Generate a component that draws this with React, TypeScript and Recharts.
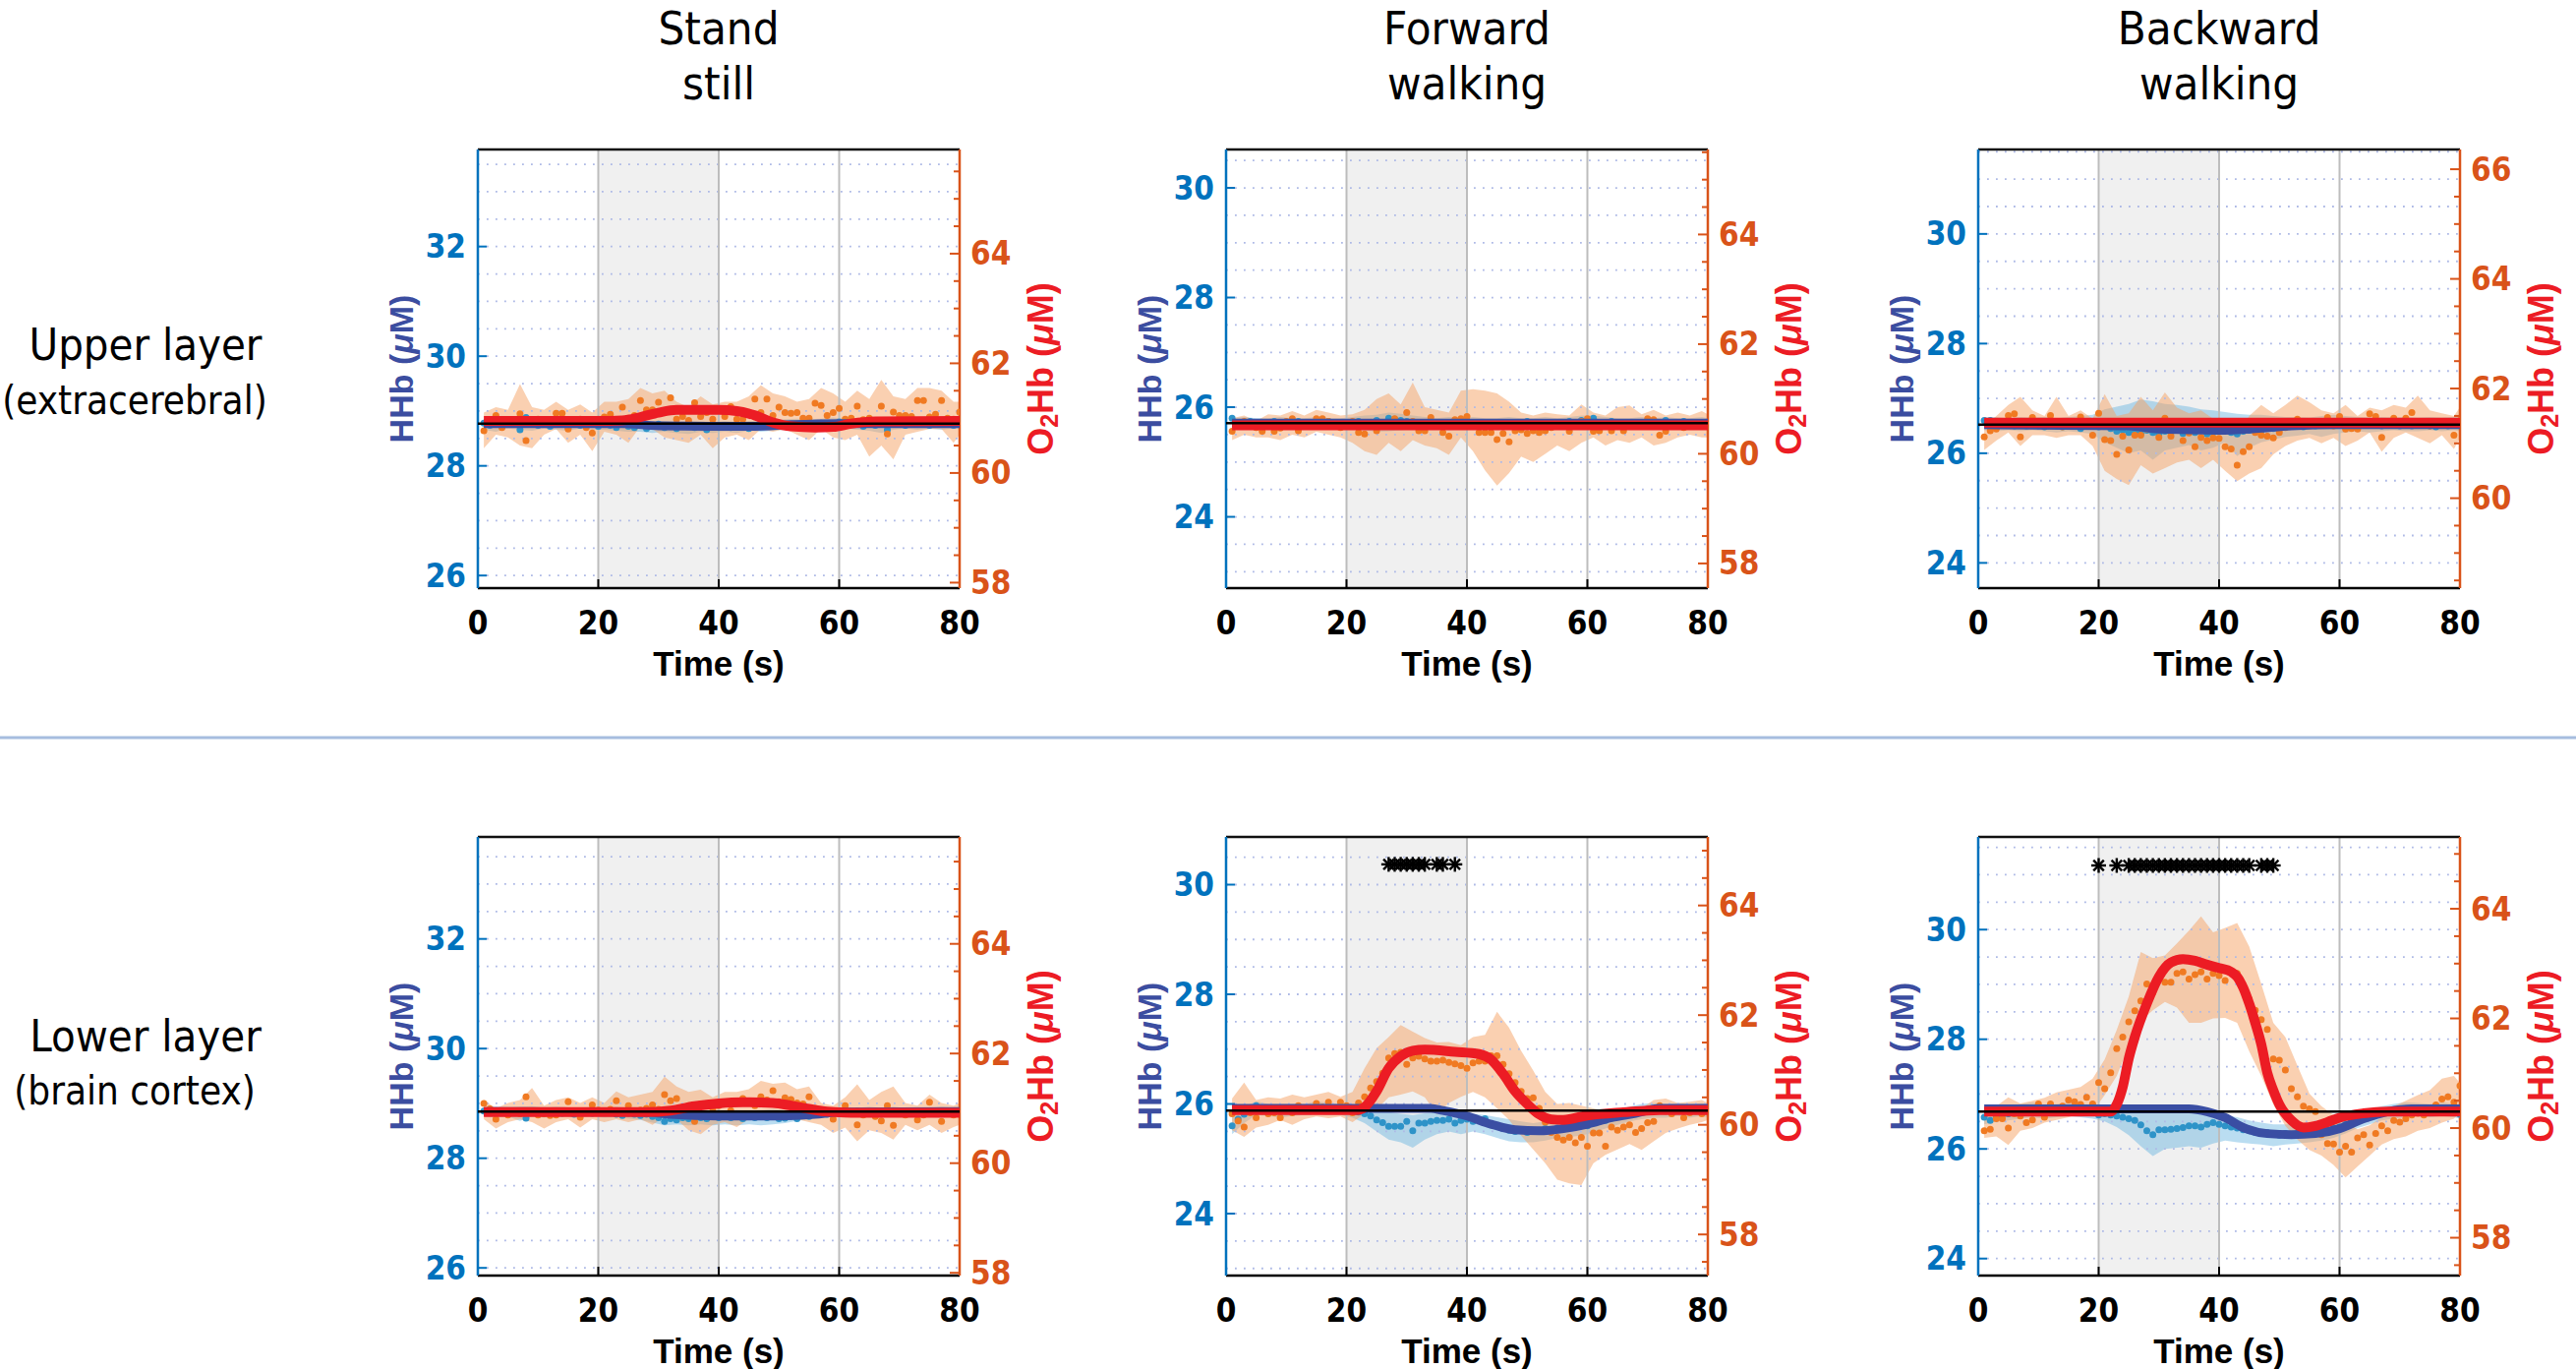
import React from "react";
import {
  ComposedChart,
  Line,
  Area,
  XAxis,
  YAxis,
  ReferenceArea,
  ReferenceLine,
} from "recharts";

// time base (s): one averaged sample per second, bands read every 2 s
const seconds = [
  1, 2, 3, 4, 5, 6, 7, 8, 9, 10, 11, 12, 13, 14, 15, 16, 17, 18, 19, 20,
  21, 22, 23, 24, 25, 26, 27, 28, 29, 30, 31, 32, 33, 34, 35, 36, 37, 38, 39, 40,
  41, 42, 43, 44, 45, 46, 47, 48, 49, 50, 51, 52, 53, 54, 55, 56, 57, 58, 59, 60,
  61, 62, 63, 64, 65, 66, 67, 68, 69, 70, 71, 72, 73, 74, 75, 76, 77, 78, 79, 80,
];
const bandSeconds = [
  1, 3, 5, 7, 9, 11, 13, 15, 17, 19, 21, 23, 25, 27, 29, 31, 33, 35, 37, 39,
  41, 43, 45, 47, 49, 51, 53, 55, 57, 59, 61, 63, 65, 67, 69, 71, 73, 75, 77, 79, 80,
];
const timeTicks = [0, 20, 40, 60, 80];
const columnTitles = [["Stand", "still"], ["Forward", "walking"], ["Backward", "walking"]];
const rowTitles = [["Upper layer", "(extracerebral)"], ["Lower layer", "(brain cortex)"]];

// ---- Upper layer, stand still ----
const upStandOxy = [
  60.77, 60.95, 61.05, 60.83, 60.92, 60.97, 61.08, 60.59, 60.93, 60.98,
  60.96, 60.9, 61.09, 61.09, 60.8, 60.94, 60.98, 60.83, 60.73, 60.98,
  61.02, 61.07, 60.97, 61.2, 61.0, 61.05, 61.32, 61.15, 61.15, 61.29,
  61.1, 61.37, 60.98, 61.03, 60.96, 61.28, 61.03, 61.1, 60.98, 60.86,
  61.03, 61.21, 60.98, 60.98, 61.08, 61.35, 61.1, 61.35, 61.05, 61.2,
  61.1, 61.09, 61.1, 61.0, 61.0, 61.27, 61.23, 61.05, 61.1, 61.18,
  60.98, 61.0, 61.22, 60.97, 61.0, 60.95, 61.22, 60.71, 61.11, 61.05,
  61.05, 61.03, 61.32, 61.32, 61.02, 61.07, 61.32, 61.0, 60.98, 61.11,
];
const upStandOxyHi = [
  61.1, 61.2, 61.15, 61.62, 61.2, 61.15, 61.3, 61.15, 61.25, 61.1,
  61.3, 61.3, 61.35, 61.55, 61.45, 61.5, 61.3, 61.2, 61.4, 61.25,
  61.3, 61.3, 61.4, 61.6, 61.45, 61.4, 61.3, 61.35, 61.55, 61.45,
  61.3, 61.5, 61.35, 61.7, 61.4, 61.35, 61.55, 61.55, 61.5, 61.3, 61.3,
];
const upStandOxyLo = [
  60.45, 60.7, 60.65, 60.5, 60.45, 60.7, 60.8, 60.55, 60.7, 60.4,
  60.75, 60.7, 60.55, 60.85, 60.8, 60.65, 60.6, 60.55, 60.7, 60.45,
  60.65, 60.7, 60.6, 60.8, 60.75, 60.8, 60.7, 60.6, 60.8, 60.65,
  60.6, 60.7, 60.3, 60.5, 60.25, 60.7, 60.75, 60.8, 60.8, 60.55, 60.7,
];
const upStandHhb = [
  28.78, 28.74, 28.8, 28.72, 28.76, 28.8, 28.66, 28.88, 28.76, 28.74,
  28.78, 28.72, 28.8, 28.76, 28.7, 28.78, 28.74, 28.8, 28.76, 28.72,
  28.78, 28.74, 28.7, 28.76, 28.72, 28.7, 28.74, 28.68, 28.72, 28.76,
  28.7, 28.74, 28.68, 28.72, 28.78, 28.7, 28.74, 28.66, 28.72, 28.7,
  28.74, 28.7, 28.76, 28.72, 28.68, 28.74, 28.72, 28.76, 28.74, 28.78,
  28.72, 28.76, 28.74, 28.8, 28.76, 28.74, 28.78, 28.72, 28.76, 28.8,
  28.74, 28.78, 28.76, 28.72, 28.8, 28.74, 28.78, 28.66, 28.76, 28.8,
  28.74, 28.78, 28.76, 28.8, 28.74, 28.78, 28.8, 28.76, 28.74, 28.82,
];
const upStandHhbHi = [
  28.86, 28.88, 28.85, 28.86, 28.9, 28.86, 28.85, 28.88, 28.86, 28.85,
  28.86, 28.85, 28.84, 28.83, 28.82, 28.82, 28.8, 28.82, 28.81, 28.8,
  28.82, 28.8, 28.82, 28.83, 28.84, 28.85, 28.86, 28.85, 28.86, 28.88,
  28.86, 28.85, 28.88, 28.86, 28.85, 28.86, 28.88, 28.86, 28.85, 28.86, 28.86,
];
const upStandHhbLo = [
  28.66, 28.62, 28.68, 28.66, 28.64, 28.68, 28.66, 28.64, 28.68, 28.66,
  28.66, 28.64, 28.62, 28.62, 28.6, 28.62, 28.6, 28.58, 28.62, 28.6,
  28.62, 28.6, 28.64, 28.62, 28.64, 28.66, 28.64, 28.66, 28.68, 28.66,
  28.68, 28.66, 28.64, 28.6, 28.66, 28.68, 28.66, 28.68, 28.66, 28.68, 28.68,
];
const upStandOxyFit = [
  [1, 60.95], [20, 60.95], [24, 60.96], [27, 61.02], [30, 61.1], [33, 61.15], [40, 61.15],
  [43, 61.13], [46, 61.05], [49, 60.92], [52, 60.85], [56, 60.83], [59, 60.84], [62, 60.9],
  [66, 60.94], [80, 60.95],
];
const upStandHhbFit = [
  [1, 28.77], [24, 28.77], [30, 28.73], [40, 28.72], [46, 28.72], [52, 28.75], [60, 28.77], [80, 28.77],
];

// ---- Upper layer, forward walking ----
const upFwdOxy = [
  60.41, 60.5, 60.59, 60.52, 60.48, 60.41, 60.5, 60.41, 60.47, 60.59,
  60.64, 60.42, 60.5, 60.53, 60.64, 60.64, 60.59, 60.52, 60.48, 60.5,
  60.59, 60.39, 60.36, 60.5, 60.42, 60.55, 60.52, 60.64, 60.55, 60.75,
  60.59, 60.42, 60.42, 60.66, 60.5, 60.39, 60.32, 60.62, 60.64, 60.68,
  60.5, 60.39, 60.39, 60.39, 60.26, 60.37, 60.22, 60.42, 60.44, 60.37,
  60.42, 60.39, 60.42, 60.48, 60.52, 60.5, 60.41, 60.53, 60.59, 60.64,
  60.41, 60.42, 60.5, 60.42, 60.53, 60.42, 60.5, 60.55, 60.52, 60.64,
  60.62, 60.34, 60.41, 60.5, 60.52, 60.48, 60.5, 60.53, 60.5, 60.55,
];
const upFwdOxyHi = [
  60.65, 60.7, 60.6, 60.72, 60.7, 60.78, 60.7, 60.8, 60.75, 60.7,
  60.72, 60.8, 61.0, 61.1, 60.9, 61.3, 60.85, 60.8, 60.75, 61.15,
  61.18, 61.15, 61.1, 60.95, 60.75, 60.7, 60.75, 60.72, 60.7, 60.9,
  60.75, 60.7, 60.85, 60.88, 60.72, 60.8, 60.7, 60.75, 60.7, 60.78, 60.72,
];
const upFwdOxyLo = [
  60.25, 60.35, 60.3, 60.3, 60.25, 60.35, 60.3, 60.4, 60.35, 60.3,
  60.2, 60.05, 59.98, 60.2, 60.05, 60.25, 60.15, 60.1, 59.98, 60.3,
  60.05, 59.7, 59.42, 59.65, 59.95, 59.85, 60.0, 60.15, 60.05, 60.2,
  60.3, 60.15, 60.25, 60.2, 60.3, 60.15, 60.2, 60.3, 60.35, 60.3, 60.3,
];
const upFwdHhb = [
  25.8, 25.72, 25.7, 25.74, 25.68, 25.72, 25.7, 25.74, 25.7, 25.72,
  25.68, 25.74, 25.7, 25.72, 25.66, 25.7, 25.74, 25.7, 25.72, 25.68,
  25.7, 25.74, 25.72, 25.7, 25.76, 25.72, 25.8, 25.78, 25.76, 25.74,
  25.7, 25.72, 25.68, 25.7, 25.66, 25.7, 25.72, 25.68, 25.74, 25.7,
  25.72, 25.68, 25.7, 25.72, 25.66, 25.7, 25.68, 25.72, 25.7, 25.74,
  25.7, 25.72, 25.68, 25.7, 25.72, 25.7, 25.74, 25.72, 25.76, 25.74,
  25.8, 25.72, 25.7, 25.74, 25.7, 25.72, 25.68, 25.7, 25.72, 25.74,
  25.7, 25.72, 25.76, 25.7, 25.72, 25.74, 25.7, 25.72, 25.7, 25.72,
];
const upFwdHhbHi = [
  25.8, 25.82, 25.8, 25.8, 25.82, 25.8, 25.8, 25.82, 25.8, 25.8,
  25.82, 25.85, 25.86, 25.9, 25.88, 25.85, 25.82, 25.8, 25.82, 25.8,
  25.82, 25.8, 25.8, 25.82, 25.8, 25.8, 25.82, 25.8, 25.82, 25.85,
  25.85, 25.82, 25.8, 25.8, 25.82, 25.8, 25.82, 25.8, 25.8, 25.82, 25.8,
];
const upFwdHhbLo = [
  25.62, 25.62, 25.6, 25.62, 25.6, 25.62, 25.6, 25.62, 25.6, 25.6,
  25.6, 25.58, 25.55, 25.56, 25.58, 25.6, 25.58, 25.6, 25.58, 25.6,
  25.6, 25.6, 25.58, 25.6, 25.62, 25.6, 25.62, 25.6, 25.6, 25.62,
  25.6, 25.6, 25.62, 25.6, 25.62, 25.6, 25.62, 25.6, 25.62, 25.6, 25.62,
];
const upFwdOxyFit = [[1, 60.52], [80, 60.52]];
const upFwdHhbFit = [[1, 25.71], [80, 25.71]];

// ---- Upper layer, backward walking ----
const upBwdOxy = [
  61.12, 61.23, 61.26, 61.36, 61.51, 61.54, 61.12, 61.35, 61.47, 61.38,
  61.32, 61.51, 61.36, 61.3, 61.34, 61.38, 61.48, 61.33, 61.15, 61.55,
  61.07, 61.05, 60.8, 61.13, 60.88, 61.15, 61.15, 61.26, 61.26, 61.11,
  61.46, 61.13, 61.29, 61.05, 61.19, 60.94, 61.11, 61.05, 61.1, 61.09,
  60.94, 60.9, 60.6, 60.85, 60.94, 61.2, 61.15, 61.13, 61.1, 61.2,
  61.29, 61.34, 61.44, 61.36, 61.33, 61.38, 61.35, 61.47, 61.32, 61.49,
  61.26, 61.27, 61.26, 61.34, 61.54, 61.49, 61.11, 61.36, 61.46, 61.38,
  61.46, 61.56, 61.35, 61.38, 61.32, 61.36, 61.34, 61.38, 61.15, 61.42,
];
const upBwdOxyHi = [
  61.3, 61.5, 61.7, 61.85, 61.6, 61.5, 61.85, 61.5, 61.6, 61.45,
  61.9, 61.5, 61.55, 61.85, 61.6, 61.93, 61.65, 61.55, 61.6, 61.45,
  61.3, 61.15, 61.5, 61.7, 61.55, 61.7, 61.87, 61.75, 61.6, 61.55,
  61.7, 61.5, 61.65, 61.6, 61.7, 61.65, 61.87, 61.6, 61.55, 61.5, 61.66,
];
const upBwdOxyLo = [
  60.88, 61.05, 61.2, 60.95, 61.15, 61.15, 61.1, 61.15, 61.15, 60.95,
  60.5, 60.35, 60.24, 60.6, 60.45, 60.55, 60.65, 60.7, 60.55, 60.7,
  60.5, 60.31, 60.45, 60.55, 60.8, 60.95, 61.05, 61.1, 61.0, 61.1,
  60.95, 61.05, 61.2, 60.85, 61.1, 61.2, 61.1, 61.0, 61.15, 60.9, 61.1,
];
const upBwdHhb = [
  26.6, 26.6, 26.58, 26.55, 26.52, 26.5, 26.55, 26.5, 26.52, 26.5,
  26.48, 26.52, 26.5, 26.48, 26.52, 26.5, 26.45, 26.5, 26.52, 26.48,
  26.5, 26.45, 26.4, 26.42, 26.38, 26.4, 26.36, 26.42, 26.38, 26.35,
  26.4, 26.38, 26.42, 26.36, 26.4, 26.38, 26.42, 26.35, 26.38, 26.4,
  26.42, 26.38, 26.35, 26.4, 26.42, 26.45, 26.42, 26.48, 26.45, 26.5,
  26.48, 26.52, 26.5, 26.48, 26.52, 26.5, 26.55, 26.52, 26.58, 26.55,
  26.5, 26.52, 26.5, 26.55, 26.52, 26.58, 26.5, 26.52, 26.55, 26.5,
  26.52, 26.5, 26.55, 26.52, 26.5, 26.48, 26.52, 26.5, 26.55, 26.58,
];
const upBwdHhbHi = [
  26.65, 26.66, 26.64, 26.66, 26.65, 26.66, 26.64, 26.66, 26.68, 26.7,
  26.8, 26.85, 26.9, 26.98, 26.95, 26.9, 26.88, 26.85, 26.8, 26.78,
  26.75, 26.72, 26.7, 26.7, 26.68, 26.66, 26.66, 26.65, 26.68, 26.7,
  26.68, 26.66, 26.65, 26.66, 26.65, 26.66, 26.65, 26.66, 26.65, 26.66, 26.65,
];
const upBwdHhbLo = [
  26.42, 26.4, 26.42, 26.4, 26.42, 26.4, 26.38, 26.4, 26.38, 26.35,
  26.2, 26.1, 26.0, 26.05, 25.88, 26.05, 26.1, 26.15, 26.05, 26.1,
  26.2, 25.95, 26.1, 26.2, 26.25, 26.3, 26.32, 26.35, 26.3, 26.35,
  26.38, 26.4, 26.38, 26.4, 26.42, 26.4, 26.4, 26.42, 26.4, 26.42, 26.4,
];
const upBwdOxyFit = [[1, 61.38], [80, 61.38]];
const upBwdHhbFit = [
  [1, 26.52], [25, 26.5], [30, 26.44], [40, 26.42], [46, 26.45], [52, 26.5], [60, 26.52], [80, 26.52],
];

// ---- Lower layer, stand still ----
const lowStandOxy = [
  61.09, 60.99, 60.8, 60.92, 60.88, 60.95, 60.9, 61.21, 60.92, 60.88,
  60.9, 60.87, 60.88, 60.92, 61.12, 60.95, 60.84, 60.95, 61.06, 60.97,
  60.95, 60.98, 61.14, 60.95, 61.05, 60.92, 60.97, 61.0, 61.06, 60.98,
  61.25, 61.14, 61.18, 61.02, 61.05, 60.76, 61.08, 60.87, 61.0, 61.05,
  61.1, 60.96, 61.12, 61.18, 61.1, 61.05, 61.21, 61.15, 61.32, 61.12,
  61.19, 61.16, 61.1, 61.08, 61.21, 61.0, 60.95, 60.9, 60.8, 60.92,
  61.05, 60.9, 60.7, 60.88, 60.92, 60.85, 60.77, 61.05, 60.69, 60.9,
  60.88, 60.92, 60.79, 60.88, 61.11, 60.9, 60.76, 60.92, 60.88, 60.93,
];
const lowStandOxyHi = [
  61.15, 61.0, 61.1, 61.15, 61.37, 61.05, 61.15, 61.2, 61.1, 61.2,
  61.1, 61.31, 61.2, 61.25, 61.3, 61.58, 61.4, 61.3, 61.34, 61.2,
  61.3, 61.3, 61.35, 61.5, 61.45, 61.47, 61.35, 61.4, 61.1, 61.05,
  61.2, 61.44, 61.15, 61.3, 61.4, 61.1, 61.05, 61.25, 61.1, 61.05, 61.1,
];
const lowStandOxyLo = [
  60.8, 60.63, 60.75, 60.8, 60.75, 60.63, 60.75, 60.8, 60.65, 60.8,
  60.75, 60.8, 60.75, 60.8, 60.7, 60.85, 60.8, 60.6, 60.53, 60.7,
  60.75, 60.66, 60.8, 60.85, 60.9, 60.85, 60.8, 60.75, 60.7, 60.55,
  60.65, 60.4, 60.6, 60.55, 60.43, 60.7, 60.6, 60.7, 60.55, 60.66, 60.7,
];
const lowStandHhb = [
  28.86, 28.84, 28.82, 28.86, 28.8, 28.84, 28.82, 28.73, 28.84, 28.86,
  28.82, 28.84, 28.86, 28.82, 28.84, 28.8, 28.84, 28.86, 28.82, 28.84,
  28.86, 28.84, 28.8, 28.78, 28.82, 28.8, 28.78, 28.8, 28.76, 28.74,
  28.67, 28.72, 28.7, 28.74, 28.72, 28.76, 28.74, 28.72, 28.76, 28.74,
  28.78, 28.74, 28.76, 28.72, 28.76, 28.74, 28.78, 28.74, 28.76, 28.72,
  28.73, 28.76, 28.72, 28.78, 28.76, 28.8, 28.82, 28.8, 28.84, 28.82,
  28.84, 28.82, 28.86, 28.84, 28.82, 28.86, 28.84, 28.82, 28.86, 28.84,
  28.82, 28.86, 28.84, 28.82, 28.84, 28.86, 28.84, 28.82, 28.86, 28.84,
];
const lowStandHhbHi = [
  28.92, 28.94, 28.92, 28.94, 28.95, 28.92, 28.94, 28.93, 28.92, 28.94,
  28.92, 28.94, 28.92, 28.9, 28.9, 28.88, 28.88, 28.87, 28.86, 28.87,
  28.86, 28.88, 28.87, 28.88, 28.9, 28.88, 28.86, 28.88, 28.9, 28.92,
  28.94, 28.92, 28.94, 28.92, 28.94, 28.92, 28.93, 28.92, 28.94, 28.92, 28.93,
];
const lowStandHhbLo = [
  28.76, 28.74, 28.76, 28.68, 28.76, 28.74, 28.76, 28.75, 28.74, 28.76,
  28.74, 28.75, 28.72, 28.7, 28.65, 28.6, 28.62, 28.6, 28.62, 28.6,
  28.62, 28.6, 28.62, 28.6, 28.62, 28.64, 28.68, 28.72, 28.74, 28.76,
  28.74, 28.76, 28.75, 28.74, 28.76, 28.74, 28.76, 28.75, 28.74, 28.76, 28.75,
];
const lowStandOxyFit = [
  [1, 60.93], [28, 60.93], [32, 60.96], [36, 61.04], [40, 61.09], [44, 61.11], [49, 61.1],
  [52, 61.05], [55, 60.99], [58, 60.94], [62, 60.92], [80, 60.92],
];
const lowStandHhbFit = [
  [1, 28.85], [28, 28.84], [32, 28.8], [40, 28.77], [50, 28.77], [56, 28.8], [60, 28.84], [80, 28.85],
];

// ---- Lower layer, forward walking ----
const lowFwdOxy = [
  60.2, 60.07, 59.96, 60.22, 60.13, 60.25, 60.2, 60.22, 60.13, 60.28,
  60.22, 60.35, 60.3, 60.28, 60.39, 60.32, 60.41, 60.3, 60.41, 60.35,
  60.22, 60.4, 60.51, 60.67, 60.79, 60.94, 61.22, 61.3, 61.32, 61.1,
  61.22, 61.25, 61.2, 61.16, 61.16, 61.18, 61.14, 61.11, 61.08, 61.03,
  61.13, 61.16, 61.16, 61.26, 61.26, 61.1, 60.93, 60.77, 60.61, 60.48,
  60.49, 60.3, 60.05, 59.86, 59.77, 59.72, 59.77, 59.67, 59.77, 59.61,
  59.85, 59.85, 59.61, 59.96, 59.9, 59.96, 60.0, 59.86, 59.93, 60.04,
  60.06, 60.35, 60.25, 60.2, 60.28, 60.13, 60.22, 60.25, 60.2, 60.25,
];
const lowFwdOxyHi = [
  60.48, 60.77, 60.45, 60.5, 60.48, 60.55, 60.5, 60.55, 60.6, 60.51,
  60.6, 61.03, 61.4, 61.6, 61.82, 61.7, 61.58, 61.5, 61.51, 61.45,
  61.6, 61.64, 62.06, 61.77, 61.35, 60.99, 60.6, 60.38, 60.4, 60.35,
  60.3, 60.25, 60.22, 60.3, 60.3, 60.45, 60.48, 60.4, 60.42, 60.45, 60.4,
];
const lowFwdOxyLo = [
  59.9, 59.78, 59.95, 60.0, 60.09, 60.0, 60.1, 60.15, 60.12, 60.15,
  60.05, 60.2, 60.28, 60.5, 60.55, 60.61, 60.5, 60.19, 60.4, 60.51,
  60.6, 60.5, 60.3, 60.09, 59.8, 59.55, 59.3, 59.0, 58.93, 58.9,
  59.3, 59.45, 59.55, 59.65, 59.54, 59.7, 59.85, 59.93, 60.0, 60.05, 60.09,
];
const lowFwdHhb = [
  25.6, 25.72, 25.81, 25.85, 25.97, 25.9, 25.88, 25.92, 25.86, 25.9,
  25.88, 25.92, 25.9, 25.87, 25.95, 25.9, 25.92, 25.88, 25.9, 25.92,
  25.88, 25.85, 25.82, 25.78, 25.71, 25.66, 25.59, 25.59, 25.59, 25.68,
  25.51, 25.65, 25.65, 25.68, 25.7, 25.7, 25.72, 25.65, 25.7, 25.72,
  25.68, 25.7, 25.73, 25.62, 25.6, 25.55, 25.52, 25.5, 25.52, 25.48,
  25.5, 25.52, 25.55, 25.52, 25.56, 25.58, 25.6, 25.62, 25.6, 25.6,
  25.65, 25.68, 25.7, 25.74, 25.78, 25.8, 25.83, 25.85, 25.88, 25.86,
  25.9, 25.92, 25.9, 25.88, 25.92, 25.9, 25.88, 25.9, 25.92, 25.9,
];
const lowFwdHhbHi = [
  25.78, 25.95, 26.05, 26.0, 26.0, 26.0, 26.0, 26.05, 26.02, 26.0,
  25.98, 25.95, 25.88, 25.85, 25.82, 25.8, 25.83, 25.85, 25.86, 25.85,
  25.82, 25.8, 25.76, 25.72, 25.68, 25.65, 25.68, 25.7, 25.72, 25.74,
  25.78, 25.84, 25.9, 25.95, 26.0, 26.02, 26.0, 26.02, 26.0, 26.02, 26.0,
];
const lowFwdHhbLo = [
  25.45, 25.65, 25.8, 25.78, 25.75, 25.78, 25.8, 25.82, 25.8, 25.8,
  25.75, 25.65, 25.5, 25.35, 25.3, 25.2, 25.35, 25.45, 25.5, 25.45,
  25.5, 25.45, 25.38, 25.32, 25.3, 25.3, 25.33, 25.38, 25.4, 25.42,
  25.48, 25.55, 25.62, 25.68, 25.72, 25.75, 25.75, 25.78, 25.75, 25.78, 25.75,
];
const lowFwdOxyFit = [
  [1, 60.27], [22, 60.27], [23, 60.32], [25, 60.61], [27, 61.03], [29, 61.25], [31, 61.35],
  [33, 61.37], [38, 61.33], [42, 61.29], [44, 61.19], [46, 60.93], [48, 60.61], [50, 60.38],
  [52, 60.19], [54, 60.1], [56, 60.09], [60, 60.17], [66, 60.23], [72, 60.27], [80, 60.27],
];
const lowFwdHhbFit = [
  [1, 25.92], [34, 25.92], [36, 25.88], [40, 25.78], [44, 25.63], [48, 25.53], [52, 25.51],
  [56, 25.55], [60, 25.63], [64, 25.75], [68, 25.83], [72, 25.92], [80, 25.92],
];
const lowFwdStars = [27, 28, 29, 30, 31, 32, 33, 35, 36, 38];

// ---- Lower layer, backward walking ----
const lowBwdOxy = [
  59.95, 59.98, 60.17, 60.17, 60.0, 60.26, 60.22, 60.1, 60.15, 60.44,
  60.2, 60.44, 60.35, 60.4, 60.51, 60.48, 60.43, 60.56, 60.44, 60.83,
  60.72, 61.01, 61.45, 61.66, 61.94, 62.14, 62.32, 62.63, 62.47, 62.76,
  62.66, 62.66, 62.82, 62.85, 62.72, 62.8, 62.85, 62.72, 62.82, 62.78,
  62.69, 62.85, 62.82, 62.6, 62.35, 62.15, 61.98, 61.8, 61.26, 61.24,
  61.06, 60.72, 60.57, 60.4, 60.35, 60.3, 59.88, 59.72, 59.71, 59.56,
  59.67, 59.56, 59.82, 59.88, 59.69, 59.9, 60.04, 59.95, 60.14, 60.11,
  60.17, 60.24, 60.27, 60.24, 60.37, 60.42, 60.53, 60.57, 60.47, 60.77,
];
const lowBwdOxyHi = [
  60.24, 60.4, 60.56, 60.45, 60.5, 60.55, 60.65, 60.7, 60.75, 60.9,
  61.25, 61.79, 62.4, 63.21, 63.1, 63.15, 63.37, 63.6, 63.86, 63.57,
  63.65, 63.74, 63.31, 62.63, 61.92, 61.66, 61.14, 60.63, 60.4, 60.24,
  60.1, 59.98, 60.05, 60.2, 60.4, 60.5, 60.6, 60.69, 60.9, 60.95, 60.82,
];
const lowBwdOxyLo = [
  59.82, 59.85, 59.69, 59.95, 60.0, 60.1, 60.15, 60.2, 60.27, 60.3,
  60.6, 60.95, 61.5, 61.95, 62.15, 62.3, 62.2, 61.92, 61.92, 62.0,
  62.01, 61.92, 61.4, 60.95, 60.43, 60.04, 59.79, 59.6, 59.5, 59.33,
  59.1, 59.3, 59.5, 59.7, 59.8, 59.85, 59.95, 60.0, 60.1, 60.17, 60.3,
];
const lowBwdHhb = [
  26.58, 26.52, 26.6, 26.62, 26.64, 26.66, 26.68, 26.66, 26.7, 26.68,
  26.66, 26.7, 26.68, 26.7, 26.72, 26.68, 26.7, 26.68, 26.66, 26.62,
  26.64, 26.62, 26.6, 26.58, 26.55, 26.52, 26.44, 26.33, 26.26, 26.35,
  26.35, 26.36, 26.37, 26.39, 26.42, 26.42, 26.4, 26.45, 26.48, 26.45,
  26.42, 26.4, 26.38, 26.35, 26.33, 26.3, 26.28, 26.3, 26.27, 26.25,
  26.28, 26.26, 26.28, 26.3, 26.27, 26.3, 26.32, 26.35, 26.38, 26.4,
  26.45, 26.5, 26.52, 26.55, 26.6, 26.62, 26.65, 26.66, 26.68, 26.7,
  26.68, 26.7, 26.72, 26.7, 26.68, 26.7, 26.66, 26.68, 26.7, 26.63,
];
const lowBwdHhbHi = [
  26.7, 26.8, 26.78, 26.82, 26.85, 26.8, 26.82, 26.85, 26.82, 26.8,
  26.8, 26.78, 26.75, 26.72, 26.68, 26.65, 26.68, 26.7, 26.72, 26.7,
  26.62, 26.58, 26.52, 26.48, 26.45, 26.45, 26.46, 26.48, 26.5, 26.52,
  26.58, 26.65, 26.72, 26.78, 26.82, 26.85, 26.84, 26.82, 26.85, 26.82, 26.8,
];
const lowBwdHhbLo = [
  26.45, 26.5, 26.52, 26.55, 26.58, 26.55, 26.58, 26.6, 26.58, 26.55,
  26.5, 26.4, 26.25, 26.05, 25.87, 26.0, 26.02, 26.05, 26.02, 26.1,
  26.15, 26.12, 26.1, 26.08, 26.05, 26.08, 26.1, 26.12, 26.15, 26.2,
  26.28, 26.38, 26.45, 26.52, 26.55, 26.58, 26.6, 26.58, 26.6, 26.58, 26.55,
];
const lowBwdOxyFit = [
  [1, 60.3], [22, 60.3], [23, 60.43], [24, 60.75], [25, 61.27], [26, 61.66], [28, 62.27],
  [30, 62.76], [32, 63.02], [34, 63.08], [36, 63.05], [38, 62.98], [40, 62.92], [42, 62.85],
  [43, 62.76], [44, 62.56], [45, 62.27], [46, 61.92], [47, 61.53], [48, 61.01], [49, 60.69],
  [50, 60.43], [52, 60.14], [54, 60.01], [56, 60.04], [58, 60.11], [60, 60.19], [64, 60.27],
  [68, 60.3], [80, 60.3],
];
const lowBwdHhbFit = [
  [1, 26.73], [35, 26.73], [38, 26.68], [41, 26.57], [44, 26.39], [48, 26.28], [52, 26.26],
  [56, 26.28], [60, 26.37], [64, 26.55], [68, 26.68], [72, 26.73], [80, 26.73],
];
const lowBwdStars = [
  20, 23, 25, 26, 27, 28, 29, 30, 31, 32, 33, 34, 35, 36, 37, 38, 39, 40, 41, 42, 43, 44, 45, 47, 48, 49,
];

const panels = [
  { id: "us", row: 0, col: 0, hhbDomain: [25.77, 33.77], oxyDomain: [57.9, 65.9], baseline: 28.77,
    oxy: upStandOxy, oxyLo: upStandOxyLo, oxyHi: upStandOxyHi, hhb: upStandHhb, hhbLo: upStandHhbLo,
    hhbHi: upStandHhbHi, oxyFit: upStandOxyFit, hhbFit: upStandHhbFit, stars: [], starLevel: 0 },
  { id: "uf", row: 0, col: 1, hhbDomain: [22.7, 30.7], oxyDomain: [57.55, 65.55], baseline: 25.71,
    oxy: upFwdOxy, oxyLo: upFwdOxyLo, oxyHi: upFwdOxyHi, hhb: upFwdHhb, hhbLo: upFwdHhbLo,
    hhbHi: upFwdHhbHi, oxyFit: upFwdOxyFit, hhbFit: upFwdHhbFit, stars: [], starLevel: 0 },
  { id: "ub", row: 0, col: 2, hhbDomain: [23.54, 31.54], oxyDomain: [58.36, 66.36], baseline: 26.52,
    oxy: upBwdOxy, oxyLo: upBwdOxyLo, oxyHi: upBwdOxyHi, hhb: upBwdHhb, hhbLo: upBwdHhbLo,
    hhbHi: upBwdHhbHi, oxyFit: upBwdOxyFit, hhbFit: upBwdHhbFit, stars: [], starLevel: 0 },
  { id: "ls", row: 1, col: 0, hhbDomain: [25.86, 33.86], oxyDomain: [57.95, 65.95], baseline: 28.85,
    oxy: lowStandOxy, oxyLo: lowStandOxyLo, oxyHi: lowStandOxyHi, hhb: lowStandHhb, hhbLo: lowStandHhbLo,
    hhbHi: lowStandHhbHi, oxyFit: lowStandOxyFit, hhbFit: lowStandHhbFit, stars: [], starLevel: 0 },
  { id: "lf", row: 1, col: 1, hhbDomain: [22.87, 30.87], oxyDomain: [57.25, 65.25], baseline: 25.88,
    oxy: lowFwdOxy, oxyLo: lowFwdOxyLo, oxyHi: lowFwdOxyHi, hhb: lowFwdHhb, hhbLo: lowFwdHhbLo,
    hhbHi: lowFwdHhbHi, oxyFit: lowFwdOxyFit, hhbFit: lowFwdHhbFit, stars: lowFwdStars, starLevel: 30.37 },
  { id: "lb", row: 1, col: 2, hhbDomain: [23.69, 31.69], oxyDomain: [57.31, 65.31], baseline: 26.68,
    oxy: lowBwdOxy, oxyLo: lowBwdOxyLo, oxyHi: lowBwdOxyHi, hhb: lowBwdHhb, hhbLo: lowBwdHhbLo,
    hhbHi: lowBwdHhbHi, oxyFit: lowBwdOxyFit, hhbFit: lowBwdHhbFit, stars: lowBwdStars, starLevel: 31.17 },
];

// layout (page px)
const PLOT_W = 490;
const PLOT_H = 446;
const COL_X = [486, 1247, 2012];
const ROW_Y = [152, 851];
const M = { top: 20, right: 20, bottom: 15, left: 20 };
const AXIS_W = 85;
const XAXIS_H = 80;
const CHART_W = M.left + AXIS_W + PLOT_W + AXIS_W + M.right;
const CHART_H = M.top + PLOT_H + XAXIS_H + M.bottom;

const NARROW = "'Liberation Sans Narrow', 'DejaVu Sans Condensed', 'Arial Narrow', sans-serif";
const SANS = "'Liberation Sans', Arial, Helvetica, sans-serif";
const BLUE_TXT = "#0072BD";
const ORANGE_TXT = "#D95319";

const steps = (lo, hi, step) => {
  const out = [];
  for (let v = Math.ceil(lo / step - 1e-9) * step; v <= hi + 1e-9; v += step) out.push(+v.toFixed(2));
  return out;
};

const LeftTick = (props) => {
  const { x, y, payload } = props;
  return (
    <g>
      <line x1={x} x2={x + 9} y1={y} y2={y} stroke={BLUE_TXT} strokeWidth={2} />
      <text x={x - 12} y={y} textAnchor="end" dominantBaseline="central" fill={BLUE_TXT}
        fontSize={33} fontWeight="bold" fontFamily={NARROW}>{payload.value}</text>
    </g>
  );
};

const RightTick = (props) => {
  const { x, y, payload } = props;
  const major = Math.abs(payload.value % 2) < 1e-6;
  return (
    <g>
      <line x1={x - (major ? 10 : 6)} x2={x} y1={y} y2={y} stroke={ORANGE_TXT} strokeWidth={2} />
      {major && (
        <text x={x + 11} y={y} textAnchor="start" dominantBaseline="central" fill={ORANGE_TXT}
          fontSize={33} fontWeight="bold" fontFamily={NARROW}>{payload.value}</text>
      )}
    </g>
  );
};

const TimeTick = (props) => {
  const { x, y, payload } = props;
  return (
    <g>
      {payload.value > 0 && payload.value < 80 && (
        <line x1={x} x2={x} y1={y} y2={y - 9} stroke="#000" strokeWidth={2} />
      )}
      <text x={x} y={y + 35} textAnchor="middle" dominantBaseline="central" fill="#000"
        fontSize={33} fontWeight="bold" fontFamily={NARROW}>{payload.value}</text>
    </g>
  );
};

const Asterisk = (props) => {
  const { cx, cy } = props;
  if (cx == null || cy == null) return null;
  const s = 7.5;
  const d = 5.3;
  return (
    <g stroke="#000" strokeWidth={2.4}>
      <line x1={cx - s} x2={cx + s} y1={cy} y2={cy} />
      <line x1={cx} x2={cx} y1={cy - s} y2={cy + s} />
      <line x1={cx - d} x2={cx + d} y1={cy - d} y2={cy + d} />
      <line x1={cx - d} x2={cx + d} y1={cy + d} y2={cy - d} />
    </g>
  );
};

// the same axes for every stacked layer; only the bottom layer shows them
function axes(p, visible) {
  const hhbTicks = steps(p.hhbDomain[0], p.hhbDomain[1], 2);
  const oxyTicks = steps(p.oxyDomain[0], p.oxyDomain[1], 0.5);
  return [
    <XAxis key="x" dataKey="t" type="number" domain={[0, 80]} ticks={timeTicks} interval={0}
      allowDataOverflow height={XAXIS_H} tickSize={0} tickMargin={0} tickLine={false}
      axisLine={visible ? { stroke: "#000", strokeWidth: 2.5 } : false}
      tick={visible ? <TimeTick /> : false} />,
    <YAxis key="yl" yAxisId="hhb" orientation="left" type="number" domain={p.hhbDomain} allowDataOverflow
      ticks={hhbTicks} interval={0} width={AXIS_W} tickSize={0} tickMargin={0} tickLine={false}
      axisLine={visible ? { stroke: BLUE_TXT, strokeWidth: 2.5 } : false}
      tick={visible ? <LeftTick /> : false} />,
    <YAxis key="yr" yAxisId="oxy" orientation="right" type="number" domain={p.oxyDomain} allowDataOverflow
      ticks={oxyTicks} interval={0} width={AXIS_W} tickSize={0} tickMargin={0} tickLine={false}
      axisLine={visible ? { stroke: ORANGE_TXT, strokeWidth: 2.5 } : false}
      tick={visible ? <RightTick /> : false} />,
  ];
}

const layerStyle = { position: "absolute", left: 0, top: 0 };

function Panel({ p }) {
  const oxyRows = seconds.map((t, i) => ({ t, v: p.oxy[i] }));
  const hhbRows = seconds.map((t, i) => ({ t, v: p.hhb[i] }));
  const oxyBand = bandSeconds.map((t, i) => ({ t, r: [p.oxyLo[i], p.oxyHi[i]] }));
  const hhbBand = bandSeconds.map((t, i) => ({ t, r: [p.hhbLo[i], p.hhbHi[i]] }));
  const oxyFit = p.oxyFit.map(([t, v]) => ({ t, v }));
  const hhbFit = p.hhbFit.map(([t, v]) => ({ t, v }));
  const base = [{ t: 0, v: p.baseline }, { t: 80, v: p.baseline }];
  const starRows = p.stars.map((t) => ({ t, v: p.starLevel }));
  const grid = steps(p.hhbDomain[0], p.hhbDomain[1], 0.5);

  return (
    <div style={{ position: "relative", width: CHART_W, height: CHART_H }}>
      {/* layer 1: frame, patch, grid, error bands and raw means */}
      <div style={layerStyle}>
        <ComposedChart width={CHART_W} height={CHART_H} margin={M}>
          {axes(p, true)}
          <ReferenceArea yAxisId="hhb" x1={20} x2={40} fill="#F0F0F0" fillOpacity={1} stroke="none" />
          {grid.map((v) => (
            <ReferenceLine key={"g" + v} yAxisId="hhb" y={v} stroke="#AEBAE6" strokeWidth={1.8}
              strokeDasharray="1.8 7.2" />
          ))}
          {[20, 40, 60].map((x) => (
            <ReferenceLine key={"v" + x} yAxisId="hhb" x={x} stroke="#BDBDBD" strokeWidth={2} />
          ))}
          <ReferenceLine yAxisId="hhb" y={p.hhbDomain[1]} stroke="#111" strokeWidth={2.5} />
          <Area yAxisId="hhb" data={hhbBand} dataKey="r" type="linear" stroke="none" fill="#5AAEDE"
            fillOpacity={0.42} isAnimationActive={false} activeDot={false} dot={false} />
          <Area yAxisId="oxy" data={oxyBand} dataKey="r" type="linear" stroke="none" fill="#F5A163"
            fillOpacity={0.5} isAnimationActive={false} activeDot={false} dot={false} />
          <Line yAxisId="hhb" data={hhbRows} dataKey="v" stroke="none" isAnimationActive={false}
            activeDot={false} dot={{ r: 3.5, fill: "#2E93C8", stroke: "none" }} />
          <Line yAxisId="oxy" data={oxyRows} dataKey="v" stroke="none" isAnimationActive={false}
            activeDot={false} dot={{ r: 3.5, fill: "#F07A22", stroke: "none" }} />
        </ComposedChart>
      </div>
      {/* layer 2: HHb fit */}
      <div style={layerStyle}>
        <ComposedChart width={CHART_W} height={CHART_H} margin={M}>
          {axes(p, false)}
          <Line yAxisId="hhb" data={hhbFit} dataKey="v" type="monotone" stroke="#3A4EA3" strokeWidth={9}
            dot={false} activeDot={false} isAnimationActive={false} />
        </ComposedChart>
      </div>
      {/* layer 3: O2Hb fit */}
      <div style={layerStyle}>
        <ComposedChart width={CHART_W} height={CHART_H} margin={M}>
          {axes(p, false)}
          <Line yAxisId="oxy" data={oxyFit} dataKey="v" type="monotone" stroke="#EC1C24" strokeWidth={10}
            dot={false} activeDot={false} isAnimationActive={false} />
        </ComposedChart>
      </div>
      {/* layer 4: baseline and significance markers */}
      <div style={layerStyle}>
        <ComposedChart width={CHART_W} height={CHART_H} margin={M}>
          {axes(p, false)}
          <Line yAxisId="hhb" data={base} dataKey="v" type="linear" stroke="#000" strokeWidth={2.5}
            dot={false} activeDot={false} isAnimationActive={false} />
          {starRows.length > 0 && (
            <Line yAxisId="hhb" data={starRows} dataKey="v" stroke="none" dot={<Asterisk />}
              activeDot={false} isAnimationActive={false} />
          )}
        </ComposedChart>
      </div>
    </div>
  );
}

function Labels() {
  return (
    <svg width={2620} height={1392} style={{ position: "absolute", left: 0, top: 0 }}>
      <line x1={0} x2={2620} y1={750} y2={750} stroke="#A6BDDF" strokeWidth={3} />
      {columnTitles.map((lines, c) => (
        <text key={"t" + c} x={COL_X[c] + PLOT_W / 2} textAnchor="middle" fontFamily={NARROW}
          fontSize={47} fill="#000">
          <tspan x={COL_X[c] + PLOT_W / 2} y={45}>{lines[0]}</tspan>
          <tspan x={COL_X[c] + PLOT_W / 2} y={101}>{lines[1]}</tspan>
        </text>
      ))}
      {rowTitles.map((lines, r) => (
        <g key={"r" + r} fontFamily={NARROW} fill="#000" textAnchor="middle">
          <text x={148} y={r === 0 ? 366 : 1069} fontSize={45}>{lines[0]}</text>
          <text x={137} y={r === 0 ? 421 : 1123} fontSize={40}>{lines[1]}</text>
        </g>
      ))}
      {panels.map((p) => {
        const left = COL_X[p.col];
        const top = ROW_Y[p.row];
        const cy = top + PLOT_H / 2;
        const hx = left - 78;
        const ox = left + PLOT_W + 82;
        return (
          <g key={"l" + p.id} fontFamily={SANS} fontWeight="bold">
            <text x={left + PLOT_W / 2} y={top + PLOT_H + 76} textAnchor="middle"
              dominantBaseline="central" fontSize={35} fill="#000">Time (s)</text>
            <text transform={`translate(${hx},${cy}) rotate(-90)`} textAnchor="middle"
              dominantBaseline="central" fontSize={34} fill="#3B4DA0">
              HHb (<tspan fontStyle="italic">μ</tspan>M)
            </text>
            <text transform={`translate(${ox},${cy}) rotate(-90)`} textAnchor="middle"
              dominantBaseline="central" fontSize={36} fill="#EC1C24">
              O<tspan dy={9} fontSize={25}>2</tspan><tspan dy={-9}>Hb (</tspan>
              <tspan fontStyle="italic">μ</tspan>M)
            </text>
          </g>
        );
      })}
    </svg>
  );
}

export default function App() {
  return (
    <div style={{ position: "absolute", left: 0, top: 0, width: 2620, height: 1392, background: "#fff", overflow: "hidden" }}>
      <Labels />
      {panels.map((p) => (
        <div key={p.id} style={{ position: "absolute", left: COL_X[p.col] - M.left - AXIS_W, top: ROW_Y[p.row] - M.top }}>
          <Panel p={p} />
        </div>
      ))}
    </div>
  );
}
